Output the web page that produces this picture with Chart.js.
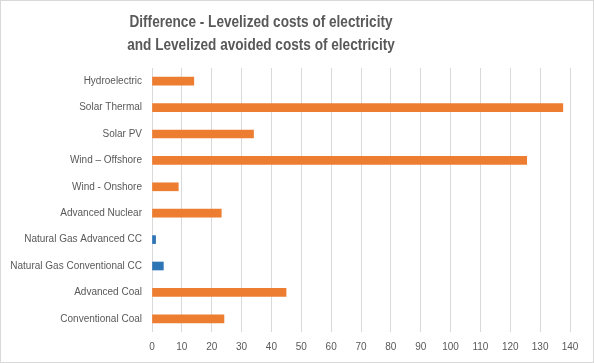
<!DOCTYPE html>
<html lang="en">
<head>
    <meta charset="UTF-8">
    <title>Levelized costs difference</title>
    <script src="https://cdn.jsdelivr.net/npm/chart.js"></script>
    <style>
        body {
            margin: 0;
            background-color: #ffffff;
        }

        .wrap {
            position: relative;
            width: 594px;
            height: 363px;
        }

        .frame {
            position: absolute;
            left: 0;
            top: 0;
            width: 592px;
            height: 361px;
            border: 1px solid #d9d9d9;
            pointer-events: none;
        }

        .title {
            position: absolute;
            left: 0;
            top: 10px;
            width: 522px;
            text-align: center;
            font-family: 'Liberation Sans', sans-serif;
            font-weight: bold;
            font-size: 16px;
            line-height: 23px;
            color: #595959;
            transform: scaleX(0.85);
            transform-origin: 261px 0;
        }
    </style>
</head>
<body>
    <div class="wrap">
        <canvas id="diffChart"></canvas>
        <div class="title">Difference - Levelized costs of electricity<br>and Levelized avoided costs of electricity</div>
        <div class="frame"></div>
    </div>

    <script>
        // Values
        const categories = ['Hydroelectric', 'Solar Thermal', 'Solar PV', 'Wind \u2013 Offshore', 'Wind - Onshore',
            'Advanced Nuclear', 'Natural Gas Advanced CC', 'Natural Gas Conventional CC', 'Advanced Coal', 'Conventional Coal'];
        const differences = [14, 137.6, 34, 125.5, 8.8, 23.2, 1.2, 3.8, 44.9, 24.1];
        const gasCategories = ['Natural Gas Advanced CC', 'Natural Gas Conventional CC'];
        const xTicks = [0, 10, 20, 30, 40, 50, 60, 70, 80, 90, 100, 110, 120, 130, 140];

        const ctx = document.getElementById('diffChart').getContext('2d');
        new Chart(ctx, {
            type: 'bar',
            data: {
                labels: categories,
                datasets: [{
                    label: 'Difference',
                    data: differences,
                    backgroundColor: function(c) {
                        return gasCategories.includes(categories[c.dataIndex]) ? '#2e75b6' : '#ed7d31';
                    },
                    barThickness: 8
                }]
            },
            options: {
                indexAxis: 'y',
                responsive: true,
                maintainAspectRatio: false,
                animation: false,
                layout: {
                    padding: { top: 68, right: 24, bottom: 0, left: 0 }
                },
                plugins: {
                    legend: { display: false },
                    tooltip: { enabled: false }
                },
                scales: {
                    x: {
                        min: 0,
                        max: 140,
                        afterBuildTicks: function(scale) {
                            scale.ticks = xTicks.map(v => ({ value: v }));
                        },
                        afterFit: function(scale) {
                            scale.height = 31;
                        },
                        grid: { color: '#d9d9d9', drawTicks: false },
                        border: { display: false },
                        ticks: {
                            padding: 9,
                            color: '#595959',
                            font: { family: 'Liberation Sans', size: 10 }
                        }
                    },
                    y: {
                        afterFit: function(scale) {
                            scale.width = 152;
                        },
                        grid: { display: false, drawTicks: false },
                        border: { display: false },
                        ticks: {
                            padding: 10,
                            color: '#595959',
                            font: { family: 'Liberation Sans', size: 10 }
                        }
                    }
                }
            }
        });
    </script>
</body>
</html>
